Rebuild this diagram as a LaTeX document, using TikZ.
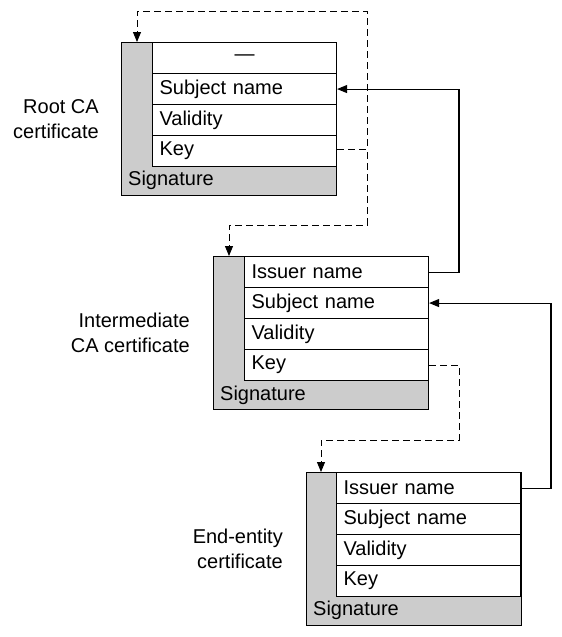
\documentclass[tikz,border=0pt]{standalone}
\usepackage{fontspec}
\setmainfont{Liberation Sans}
\usetikzlibrary{arrows.meta}
\definecolor{certgray}{RGB}{204,204,204}
\newcommand{\certfont}{\fontsize{20}{24.5}\selectfont}
\tikzset{
  certbox/.style={draw, fill=certgray, minimum width=215pt, minimum height=153pt, anchor=north west, inner sep=0pt, line width=1.1pt},
  certrow/.style={draw, fill=white, minimum width=184pt, minimum height=31pt, text width=170pt, inner xsep=7pt, inner ysep=2pt, align=left, anchor=north west, font=\certfont, line width=1.1pt},
  siglabel/.style={anchor=west, inner xsep=7pt, inner ysep=0pt, font=\certfont},
  certlabel/.style={anchor=east, inner sep=0pt, align=right, font=\certfont},
  link/.style={line width=1.1pt, -{Triangle[length=10pt,width=8pt]}},
  dashlink/.style={link, line width=0.9pt, dash pattern=on 7pt off 4pt},
}
\begin{document}
\begin{tikzpicture}[x=1pt,y=-1pt]
\useasboundingbox (0,0) rectangle (562,637);
% Root CA
\node[certbox] (rootbox) at (121,42) {};
\node[certrow, align=center] (rtop) at (152,42) {\raisebox{-4pt}{—}};
\node[certrow] (rsub) at (152,73) {Subject name};
\node[certrow] (rval) at (152,104) {Validity};
\node[certrow] (rkey) at (152,135) {Key};
\node[siglabel] (rsig) at (121,180.5) {Signature};
\node[certlabel] (rlabel) at ([xshift=-22pt]rootbox.west) {Root CA\\certificate};
% Intermediate
\node[certbox] (intbox) at (213,256) {};
\node[certrow] (iiss) at (244,256) {Issuer name};
\node[certrow] (isub) at (244,287) {Subject name};
\node[certrow] (ival) at (244,318) {Validity};
\node[certrow] (ikey) at (244,349) {Key};
\node[siglabel] (isig) at (213,395) {Signature};
\node[certlabel] (ilabel) at ([xshift=-23pt]intbox.west) {Intermediate\\CA certificate};
% End-entity
\node[certbox] (endbox) at (306,472) {};
\node[certrow] (eiss) at (336,472) {Issuer name};
\node[certrow] (esub) at (336,503) {Subject name};
\node[certrow] (eval) at (336,534) {Validity};
\node[certrow] (ekey) at (336,565) {Key};
\node[siglabel] (esig) at (306,610) {Signature};
\node[certlabel] (elabel) at ([xshift=-23pt]endbox.west) {End-entity\\certificate};
% routing points
\coordinate (rk) at (367,149);
\coordinate (rtopc) at (137,11);
\coordinate (rdown) at (367,225);
\coordinate (itopc) at (229,225);
\coordinate (ir) at (459,200);
\coordinate (ik) at (459,365);
\coordinate (idown) at (459,440);
\coordinate (etopc) at (321,440);
\coordinate (er) at (551,400);
% connectors
\draw[dashlink] (rkey.east |- rk) -- (rk) |- (rtopc) -- (rtopc |- rootbox.north);
\draw[dashlink] (rkey.east |- rk) -- (rk) -- (rdown) -- (itopc) -- (itopc |- intbox.north);
\draw[link] (iiss.east) -| (ir) |- (rsub.east);
\draw[dashlink] (ikey.east |- ik) -- (ik) -- (idown) -- (etopc) -- (etopc |- endbox.north);
\draw[link] (eiss.east) -| (er) |- (isub.east);
\end{tikzpicture}
\end{document}
